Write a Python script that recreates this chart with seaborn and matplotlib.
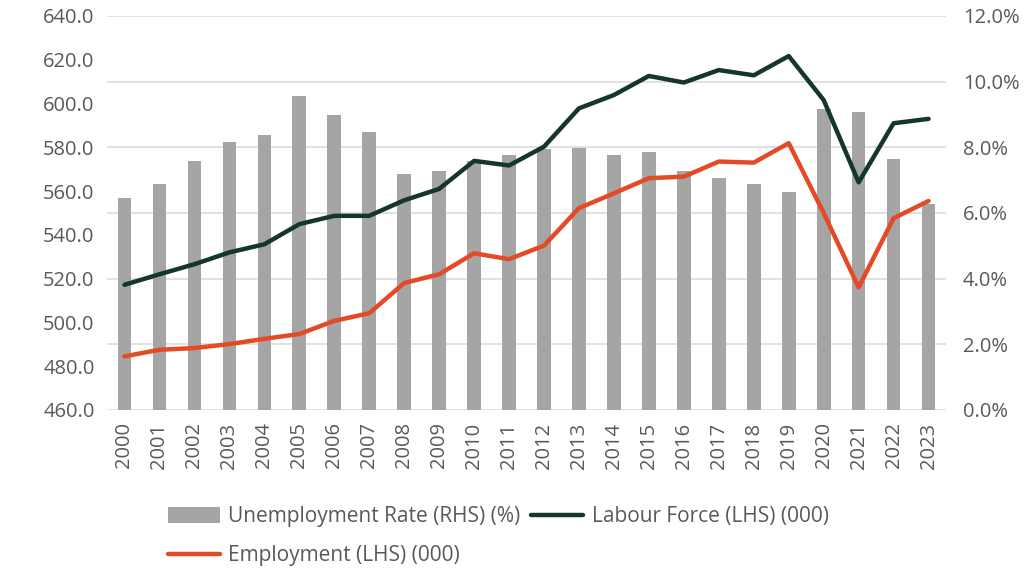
import numpy as np
import pandas as pd
import matplotlib
matplotlib.use("Agg")
import matplotlib.pyplot as plt
from matplotlib.ticker import FuncFormatter, MultipleLocator
from matplotlib.patches import Patch
from matplotlib.lines import Line2D
import seaborn as sns

# Series
years = [str(y) for y in range(2000, 2024)]
unemployment_rate = [6.47, 6.87, 7.57, 8.15, 8.37, 9.55, 8.97, 8.46, 7.18, 7.27,
                     7.59, 7.76, 7.96, 7.97, 7.76, 7.86, 7.27, 7.06, 6.87, 6.65,
                     9.16, 9.07, 7.65, 6.27]
labour_force = [517.2, 522.0, 526.6, 532.0, 535.7, 544.9, 548.7, 548.7, 555.8, 561.0,
                573.8, 571.7, 580.3, 597.8, 603.9, 612.6, 609.6, 615.3, 612.9, 621.7,
                601.6, 564.0, 591.0, 593.0]
employment = [484.5, 487.5, 488.3, 490.1, 492.5, 494.7, 500.7, 504.2, 518.0, 522.0,
              531.6, 528.9, 535.1, 552.2, 559.0, 565.9, 566.6, 573.5, 573.0, 581.9,
              550.0, 516.0, 547.6, 555.5]

df = pd.DataFrame({
    "Year": years,
    "Rate": unemployment_rate,
    "Labour": labour_force,
    "Employment": employment,
})
df["pos"] = np.arange(len(df))

sns.set_theme(style="white")
plt.rcParams["font.family"] = ["Open Sans", "DejaVu Sans"]

TEXT = "#595959"
GRID = "#D9D9D9"
BAR = "#A5A5A5"
LABOUR = "#15362B"
EMPLOY = "#E34A25"

fig = plt.figure(figsize=(10.31, 5.71), dpi=100)
ax = fig.add_axes([0.1038, 0.282, 0.8138, 0.690])
ax2 = ax.twinx()

# Bars on the right-hand axis (underneath)
sns.barplot(data=df, x="Year", y="Rate", ax=ax2, color=BAR, width=0.39,
            saturation=1, edgecolor="none", zorder=2)
ax2.set_ylim(0, 12)
ax2.yaxis.set_major_locator(MultipleLocator(2))
ax2.yaxis.set_major_formatter(FuncFormatter(lambda v, p: f"{v:.1f}%"))
ax2.grid(axis="y", color=GRID, linewidth=1.1)
ax2.grid(axis="x", visible=False)
ax2.set_axisbelow(True)
ax2.set_ylabel("")

# Lines on the left-hand axis (on top)
sns.lineplot(data=df, x="pos", y="Labour", ax=ax, color=LABOUR, linewidth=3.2,
             legend=False)
sns.lineplot(data=df, x="pos", y="Employment", ax=ax, color=EMPLOY, linewidth=3.2,
             legend=False)
ax.set_ylim(460, 640)
ax.yaxis.set_major_locator(MultipleLocator(20))
ax.yaxis.set_major_formatter(FuncFormatter(lambda v, p: f"{v:.1f}"))
ax.set_zorder(ax2.get_zorder() + 1)
ax.patch.set_visible(False)
ax.grid(False)
ax.set_xlabel("")
ax.set_ylabel("")

ax.set_xlim(-0.5, len(years) - 0.5)
ax.set_xticks(df["pos"])
ax.set_xticklabels(years, rotation=90)

for a in (ax, ax2):
    for s in a.spines.values():
        s.set_visible(False)
    a.tick_params(length=0, labelsize=14.5, labelcolor=TEXT)
ax.tick_params(axis="y", pad=9)
ax.tick_params(axis="x", pad=9)
ax2.tick_params(axis="y", pad=12)

# Legend below the plot
handles = [
    Patch(facecolor=BAR, edgecolor="none", label="Unemployment Rate (RHS) (%)"),
    Line2D([], [], color=EMPLOY, linewidth=3.2, label="Employment (LHS) (000)"),
    Line2D([], [], color=LABOUR, linewidth=3.2, label="Labour Force (LHS) (000)"),
]
leg = fig.legend(handles=handles, ncol=2, loc="upper left",
                 bbox_to_anchor=(0.163, 0.113), frameon=False,
                 fontsize=15, handlelength=2.5, handleheight=0.8,
                 handletextpad=0.4, columnspacing=0.5, labelspacing=0.85,
                 borderpad=0, borderaxespad=0)
for t in leg.get_texts():
    t.set_color(TEXT)

fig.savefig("out.png", dpi=100, facecolor="white")
